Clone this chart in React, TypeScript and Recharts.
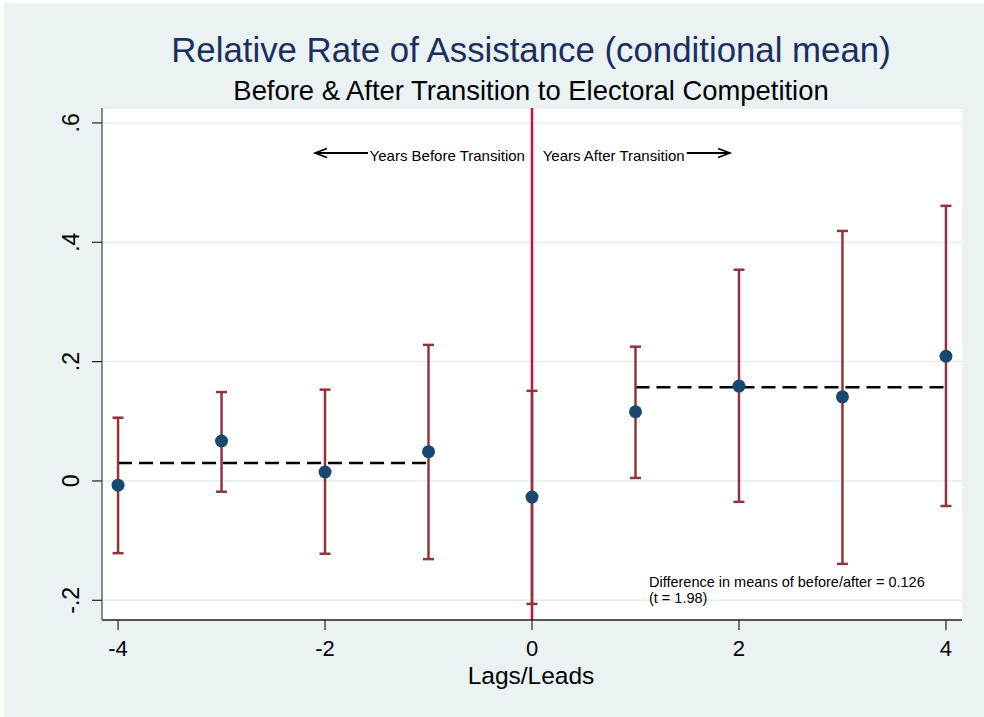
import { ComposedChart, Scatter, ErrorBar, Line, XAxis, YAxis, CartesianGrid, ReferenceLine, ReferenceDot } from 'recharts';

const lags = [-4, -3, -2, -1, 0, 1, 2, 3, 4];
const coef = [-0.007, 0.067, 0.015, 0.049, -0.027, 0.116, 0.159, 0.141, 0.209];
const ciLow = [-0.121, -0.018, -0.122, -0.131, -0.206, 0.005, -0.035, -0.139, -0.042];
const ciHigh = [0.106, 0.149, 0.153, 0.228, 0.151, 0.225, 0.354, 0.419, 0.461];

const beforeLags = [-4, -1];
const beforeMean = 0.03;
const afterLags = [1, 4];
const afterMean = 0.157;

const xTicks = [-4, -2, 0, 2, 4];
const yTicks = [-0.2, 0, 0.2, 0.4, 0.6];
const yTickLabels: Record<string, string> = { '-0.2': '-.2', '0': '0', '0.2': '.2', '0.4': '.4', '0.6': '.6' };

const points = lags.map((x, i) => ({ x, y: coef[i], err: [coef[i] - ciLow[i], ciHigh[i] - coef[i]] }));
const beforeLine = beforeLags.map((x) => ({ x, y: beforeMean }));
const afterLine = afterLags.map((x) => ({ x, y: afterMean }));

const FONT = '"Liberation Sans", Arial, Helvetica, sans-serif';
const NAVY = '#1A476F';
const CRANBERRY = '#90353B';

function Arrow(props: any) {
  const { x1, y1, x2, y2 } = props;
  const dir = x2 > x1 ? -1 : 1;
  return (
    <g>
      <line x1={x1} y1={y1} x2={x2} y2={y2} stroke="#000" strokeWidth={2} />
      <path d={`M${x2 + dir * 12},${y2 - 4.5} L${x2},${y2} L${x2 + dir * 12},${y2 + 4.5}`} fill="none" stroke="#000" strokeWidth={1.6} />
    </g>
  );
}

function note(text: string, anchor: 'start' | 'end') {
  return (p: any) => (
    <text x={p.cx} y={p.cy} textAnchor={anchor} fontSize={15} fontFamily={FONT} fill="#000">
      {text}
    </text>
  );
}

function diffNote(p: any) {
  return (
    <g fontSize={14.5} fontFamily={FONT} fill="#000">
      <text x={p.cx} y={p.cy}>Difference in means of before/after = 0.126</text>
      <text x={p.cx} y={p.cy + 16.4}>(t = 1.98)</text>
    </g>
  );
}

function YTick(props: any) {
  const { x, y, payload } = props;
  return (
    <text x={x} y={y} transform={`rotate(-90 ${x} ${y})`} textAnchor="middle" fontSize={23} fontFamily={FONT} fill="#000">
      {yTickLabels[String(payload.value)] ?? payload.value}
    </text>
  );
}

function XTick(props: any) {
  const { x, y, payload } = props;
  return (
    <text x={x} y={y} dy="0.71em" textAnchor="middle" fontSize={22} fontFamily={FONT} fill="#000">
      {payload.value}
    </text>
  );
}

export default function App() {
  return (
    <div style={{ position: 'relative', width: 984, height: 717, background: '#fff', fontFamily: FONT }}>
      <style>{'body{margin:0}'}</style>
      <div style={{ position: 'absolute', left: 4, top: 3, right: 0, bottom: 0, background: '#EAF2F3' }} />
      <div style={{ position: 'absolute', left: 531, top: 33, transform: 'translateX(-50%)', whiteSpace: 'nowrap', fontSize: 34.8, lineHeight: 1, color: '#1C2E5E' }}>
        Relative Rate of Assistance (conditional mean)
      </div>
      <div style={{ position: 'absolute', left: 531, top: 77, transform: 'translateX(-50%)', whiteSpace: 'nowrap', fontSize: 27.4, lineHeight: 1, color: '#000' }}>
        Before &amp; After Transition to Electoral Competition
      </div>
      <div style={{ position: 'absolute', left: 531, top: 666, transform: 'translateX(-50%)', whiteSpace: 'nowrap', fontSize: 24.5, lineHeight: '20px', color: '#000' }}>
        Lags/Leads
      </div>
      <div style={{ position: 'absolute', left: 0, top: 0 }}>
        <ComposedChart width={984} height={717} margin={{ top: 108, right: 22, bottom: 37, left: 42 }}>
          <CartesianGrid vertical={false} fill="#fff" stroke="#E3EDEF" strokeWidth={1.5} />
          <XAxis
            type="number"
            dataKey="x"
            domain={[-4.155, 4.155]}
            ticks={xTicks}
            allowDataOverflow
            height={60}
            tickSize={10}
            tickMargin={10}
            tick={<XTick />}
            axisLine={{ stroke: '#222', strokeWidth: 1.5 }}
            tickLine={{ stroke: '#222', strokeWidth: 1.2 }}
          />
          <YAxis
            type="number"
            dataKey="y"
            domain={[-0.233, 0.625]}
            ticks={yTicks}
            allowDataOverflow
            width={60}
            tickSize={10}
            tickMargin={13}
            tick={<YTick />}
            axisLine={{ stroke: '#666', strokeWidth: 1.5 }}
            tickLine={{ stroke: '#222', strokeWidth: 1.2 }}
          />
          <ReferenceLine x={0} stroke="#C8103A" strokeWidth={2.5} />
          <Line data={beforeLine} dataKey="y" stroke="#000" strokeWidth={2.5} strokeDasharray="14 7" dot={false} isAnimationActive={false} />
          <Line data={afterLine} dataKey="y" stroke="#000" strokeWidth={2.5} strokeDasharray="14 7" dot={false} isAnimationActive={false} />
          <Scatter data={points} dataKey="y" shape={() => <g />} isAnimationActive={false}>
            <ErrorBar dataKey="err" direction="y" width={5.5} stroke={CRANBERRY} strokeWidth={2.5} />
          </Scatter>
          <Scatter
            data={points}
            dataKey="y"
            shape={(p: any) => <circle cx={p.cx} cy={p.cy} r={6.5} fill={NAVY} />}
            isAnimationActive={false}
          />
          <ReferenceLine segment={[{ x: -1.585, y: 0.5497 }, { x: -2.097, y: 0.5497 }]} shape={<Arrow />} />
          <ReferenceLine segment={[{ x: 1.495, y: 0.5497 }, { x: 1.913, y: 0.5497 }]} shape={<Arrow />} />
          <ReferenceDot x={-0.068} y={0.5354} r={0} shape={note('Years Before Transition', 'end')} />
          <ReferenceDot x={0.103} y={0.5354} r={0} shape={note('Years After Transition', 'start')} />
          <ReferenceDot x={1.13} y={-0.1776} r={0} shape={diffNote} />
        </ComposedChart>
      </div>
    </div>
  );
}
